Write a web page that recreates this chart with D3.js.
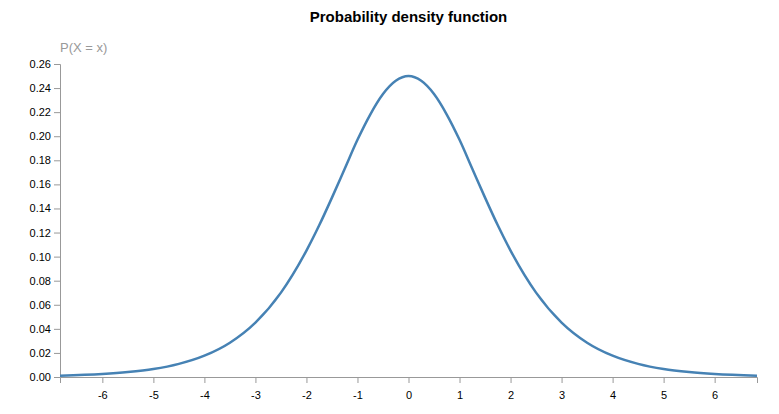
<!DOCTYPE html>
<html>
<head>
<meta charset="utf-8">
<script src="https://cdn.jsdelivr.net/npm/d3@7"></script>
<style>
    body { margin: 0; background: #fff; font-family: "Liberation Sans", Arial, sans-serif; }
    .axis path, .axis line { stroke: #999; }
    .axis text { fill: #000; font-size: 11px; font-family: "Liberation Sans", Arial, sans-serif; }
</style>
</head>
<body>
<svg id="drawing_region"></svg>
<script>
// points
var xValues = [-6.83, -6, -5.5, -5, -4.5, -4, -3.5, -3, -2.5, -2, -1.75, -1.5, -1.25, -1, -0.75, -0.5, -0.25, 0,
    0.25, 0.5, 0.75, 1, 1.25, 1.5, 1.75, 2, 2.5, 3, 3.5, 4, 4.5, 5, 5.5, 6, 6.83];
var yValues = [0.0011, 0.0025, 0.0041, 0.0066, 0.0109, 0.0177, 0.0285, 0.0452, 0.0701, 0.105, 0.126, 0.149, 0.173, 0.197, 0.218, 0.235, 0.246, 0.25,
    0.246, 0.235, 0.218, 0.197, 0.173, 0.149, 0.126, 0.105, 0.0701, 0.0452, 0.0285, 0.0177, 0.0109, 0.0066, 0.0041, 0.0025, 0.0011];
var xTicks = [-6, -5, -4, -3, -2, -1, 0, 1, 2, 3, 4, 5, 6];
var yTicks = [0, 0.02, 0.04, 0.06, 0.08, 0.10, 0.12, 0.14, 0.16, 0.18, 0.20, 0.22, 0.24, 0.26];

var config = {
    width: 779,
    height: 414,
    margin: { top: 64, right: 22, bottom: 37, left: 60 }
};

var data = xValues.map((x, i) => ({ x: x, y: yValues[i] }));

var innerW = config.width - config.margin.left - config.margin.right;
var innerH = config.height - config.margin.top - config.margin.bottom;

var svg = d3.select('#drawing_region')
    .attr('width', config.width)
    .attr('height', config.height);

var chart = svg.append('g')
    .attr('transform', `translate(${config.margin.left}, ${config.margin.top})`);

var xScale = d3.scaleLinear().domain([-6.83, 6.83]).range([0, innerW]);
var yScale = d3.scaleLinear().domain([0, 0.26]).range([innerH, 0]);

chart.append('g')
    .attr('class', 'axis')
    .attr('transform', `translate(0, ${innerH})`)
    .call(d3.axisBottom(xScale).tickValues(xTicks).tickFormat(d => String(d)))
    .selectAll('text').attr('dy', '1.2em');

chart.append('g')
    .attr('class', 'axis')
    .call(d3.axisLeft(yScale).tickValues(yTicks).tickFormat(d => d.toFixed(2)));

var line = d3.line()
    .x(d => xScale(d.x))
    .y(d => yScale(d.y))
    .curve(d3.curveMonotoneX);

chart.append('path')
    .datum(data)
    .attr('d', line)
    .attr('fill', 'none')
    .attr('stroke', 'steelblue')
    .attr('stroke-width', 2.5);

svg.append('text')
    .attr('x', config.margin.left + innerW / 2)
    .attr('y', 22)
    .attr('text-anchor', 'middle')
    .style('font-size', '15px')
    .style('font-weight', 'bold')
    .text('Probability density function');

svg.append('text')
    .attr('x', config.margin.left)
    .attr('y', 52)
    .attr('fill', '#999')
    .style('font-size', '13px')
    .text('P(X = x)');
</script>
</body>
</html>
